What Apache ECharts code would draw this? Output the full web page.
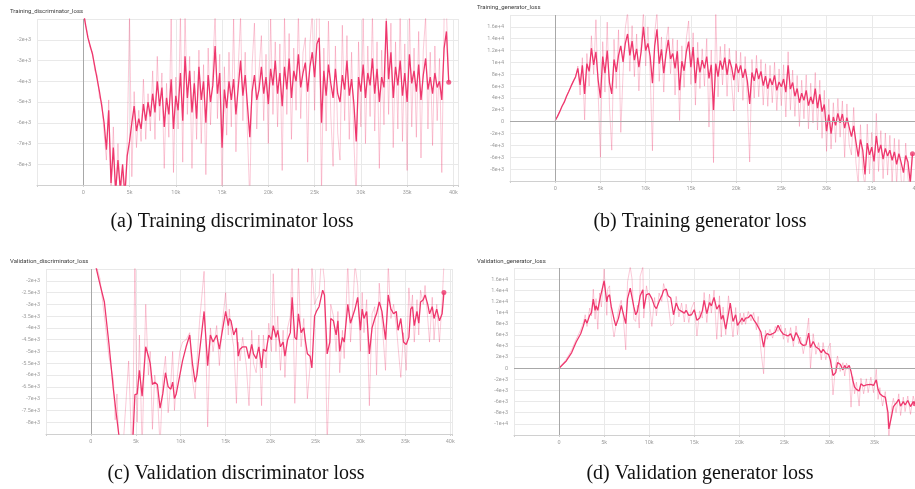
<!DOCTYPE html>
<html>
<head>
<meta charset="utf-8">
<script src="https://cdn.jsdelivr.net/npm/echarts@6/dist/echarts.min.js"></script>
<style>
  html, body { margin: 0; padding: 0; background: #fff; }
  #chart { width: 915px; height: 489px; }
</style>
</head>
<body>
<div id="chart"></div>
<script>
// training runs are logged every 250 steps
const TRAIN_STEP = 250

const TRAIN_DISC_SMOOTH = [
  -600, -1300, -1900, -2300, -2700, -3300, -3900, -4500, -5200, -6000,
  -7300, -5400, -8900, -7200, -9300, -7800, -9200, -8000, -9500, -7600,
  -6900, -6000, -5200, -6400, -5800, -6300, -5100, -5900, -5000, -5700,
  -4600, -5500, -4000, -5200, -4300, -6200, -4800, -5600, -3900, -6300,
  -4700, -5400, -3600, -5900, -2800, -4800, -3500, -5500, -4100, -5800,
  -3300, -4900, -4000, -6000, -3700, -5000, -4200, -2300, -4600, -3600,
  -7200, -4400, -5300, -4000, -4900, -3900, -5600, -4300, -3000, -4700,
  -3700, -5200, -6700, -4500, -3700, -4900, -4400, -3300, -4600, -3800,
  -5100, -3400, -4200, -3000, -4600, -3600, -5200, -3300, -4400, -2900,
  -4800, -3500, -4000, -2700, -4300, -3600, -3100, -4500, -3300, -2600,
  -3800, -2200, -1900, -6000, -3500, -4700, -3200, -4100, -4800, -3400,
  -4600, -5000, -3700, -4400, -3000, -4700, -3900, -5100, -6900, -3800,
  -4500, -3200, -4800, -3600, -4200, -2900, -4600, -3400, -5000, -3800,
  -4300, -1100, -3900, -2600, -4800, -3300, -4200, -3000, -4700, -3600,
  -5000, -2700, -4100, -3500, -4500, -3200, -4900, -3700, -2900, -4400,
  -3800, -4600, -3600, -4300, -4000, -4900, -2400, -1600, -4050
]
const TRAIN_DISC_RAW = [
  -600, -1200, -1800, -2400, -2600, -3500, -3700, -4800, -5000, -6500,
  -7800, -4900, -9500, -6200, -9800, -7000, -9600, -8400, -9900, -7000,
  -800, -8600, -4500, -7200, -5400, -6900, -3900, -6800, -4600, -6400,
  -3500, -6800, -2800, -5900, -3600, -8200, -4100, -6700, -1000, -8400,
  -3800, -6300, -800, -7900, -600, -5600, -2800, -8200, -3500, -6800,
  -2500, -7000, -3200, -8500, -2400, -6100, -3400, -700, -5800, -2700,
  -9500, -3300, -6600, -2600, -6200, -1000, -7400, -3300, -900, -5900,
  -2600, -6600, -9800, -3200, -1200, -6300, -3500, -1800, -5900, -2700,
  -7000, -1000, -5600, -2100, -6200, -2200, -8300, -900, -5600, -1700,
  -6800, -2400, -5400, -700, -5800, -2600, -1900, -7900, -2200, -600,
  -5400, -700, -800, -9400, -2400, -6400, -1100, -5600, -8100, -2300,
  -6500, -7800, -1300, -5900, -1800, -6800, -2600, -6900, -9800, -2100,
  -6200, -900, -7000, -2300, -5700, -800, -6400, -2100, -8200, -2500,
  -6100, -600, -5600, -1200, -7200, -2100, -6300, -700, -6900, -2200,
  -8300, -600, -6200, -2400, -6700, -1600, -7700, -2500, -900, -6300,
  -2600, -7100, -2300, -5900, -2900, -8400, -900, -600, -4050
]

const TRAIN_GEN_SMOOTH = [
  200, 900, 1700, 2600, 3300, 4300, 5100, 6000, 6800, 7600,
  9000, 6200, 9500, 4700, 9800, 8500, 12400, 9600, 11800, 7000,
  4000, 11000, 8200, 12000, 6600, 4700, 10500, 8400, 11200, 12800,
  10100, 13200, 14800, 11200, 13600, 10400, 12300, 9200, 11800, 16000,
  12000, 13200, 11000, 6500, 12800, 15600, 9800, 12200, 8200, 11400,
  13800, 10600, 11500, 9000, 11900, 5300, 10200, 8600, 11800, 13500,
  9200, 12600, 6500, 10800, 8300, 10400, 9000, 11000, 7300, 9600,
  2000, 9800, 7600, 10300, 8800, 10800, 7900, 10500, 9200, 7000,
  9800, 8200, 9500, 7400, 8900, 6800, 3000, 8300, 6900, 9000,
  7200, 8500, 6100, 7700, 5600, 7300, 6200, 7800, 5300, 6700,
  5900, 7200, 5000, 9500, 5500, 6600, 4300, 5600, 3200, 4800,
  3600, 5300, 2700, 4200, 3000, 5600, 2300, 4600, 1700, 2900,
  -1600, 1200, -2000, 800, -600, 1400, -200, 1300, -1100, 700,
  -900, -2500, -700, -3400, -5900, -3000, -4800, -8900, -3600, -5600,
  -4300, -6700, -2400, -5200, -3900, -6300, -4500, -5800, -4800, -6500,
  -5100, -7200, -5400, -6900, -8600, -5700, -6800, -10200, -5400
]
const TRAIN_GEN_RAW = [
  200, 800, 1800, 2500, 3400, 4200, 5200, 5900, 6900, 7400,
  9400, 4500, 10800, 300, 11500, 6000, 14500, 8000, 17200, 4600,
  -6000, 13500, 5000, 16800, 2500, -4800, 13900, 5600, 15500, -1800,
  8200, 15800, 18500, 8500, 16200, 7600, 14800, 5200, 13000, 18500,
  9400, 16000, 8000, -4900, 15000, 18500, 6800, 14300, 5000, 13400,
  16000, 8100, 14000, 4500, 13800, 200, 12800, 5800, 14100, 17000,
  6300, 15000, 2800, 13400, 5600, 12300, 6000, 14000, -900, 12100,
  -6900, 18500, 4200, 12700, 6200, 13100, 4300, 12400, 6500, 1800,
  12000, 5000, 11700, 3600, 11000, 3500, -6800, 10500, 4000, 11200,
  4200, 10500, 2800, 9800, 2600, 9500, 3200, 10000, 1900, 8900,
  2700, 9600, 800, 11800, 2000, 8700, 900, 7800, -800, 7000,
  500, 7900, -1200, 6500, -200, 8300, -1400, 7000, -2800, 5300,
  -5000, 3800, -4600, 3200, -3500, 3900, -2600, 3500, -6000, 3000,
  -3800, -5600, 2400, -6900, -10500, -500, -8200, -11000, -400, -8800,
  -1800, -10400, 1400, -8400, -1500, -9600, -1900, -9000, -2300, -10200,
  -2800, -10600, -3000, -9800, -11500, -3600, -9500, -12000, -5400
]

const VAL_DISC_STEPS = [
  0, 1000, 1500, 2000, 2500, 2700, 2900, 3100, 3500, 4200,
  4600, 4900, 5150, 5400, 5700, 6100, 6400, 6600, 6850, 7100,
  7400, 7700, 8000, 8300, 8600, 8900, 9100, 9300, 9500, 9900,
  10200, 10600, 11000, 11300, 11600, 11800, 12100, 12600, 13000, 13300,
  13600, 14000, 14300, 14600, 15000, 15300, 15400, 15600, 15900, 16200,
  16400, 16600, 16900, 17300, 17600, 17900, 18100, 18400, 18700, 19000,
  19200, 19500, 19800, 20100, 20300, 20600, 20800, 21100, 21400, 21600,
  21900, 22200, 22400, 22700, 22900, 23100, 23400, 23700, 23900, 24100,
  24400, 24600, 24900, 25100, 25400, 25600, 25800, 26000, 26300, 26600,
  26700, 27000, 27300, 27500, 27700, 28000, 28200, 28600, 28900, 29100,
  29400, 29700, 30000, 30200, 30400, 30700, 31000, 31300, 31600, 31800,
  32100, 32400, 32800, 33100, 33400, 33700, 34000, 34200, 34500, 34800,
  35100, 35400, 35600, 35800, 36000, 36300, 36500, 36700, 37000, 37200,
  37500, 37700, 38000, 38200, 38500, 38800, 39100, 39300
]
const VAL_DISC_SMOOTH = [
  -500, -2130, -2900, -4650, -6600, -7250, -7180, -8500, -9400, -9800,
  -9300, -6830, -6800, -5800, -6900, -4800, -5200, -5500, -6400, -6300,
  -6400, -7400, -6800, -5900, -6500, -6600, -6300, -7000, -6800, -6000,
  -5400, -4800, -4300, -5500, -6300, -6000, -5000, -3300, -5600, -4300,
  -4600, -4300, -4900, -4200, -3300, -3900, -3600, -3700, -4300, -4000,
  -5200, -4900, -4800, -4800, -5300, -4700, -5100, -5300, -4800, -5700,
  -4900, -5000, -4300, -4500, -3900, -4400, -4100, -4800, -4600, -5200,
  -4500, -4200, -2700, -4400, -4500, -3400, -4200, -4000, -4600, -5100,
  -5200, -5700, -3500, -3300, -3100, -3100, -2400, -2600, -5100, -4600,
  -3600, -3700, -4300, -3700, -5000, -4400, -4600, -3000, -3800, -3800,
  -3200, -2700, -4100, -3200, -3600, -3300, -5100, -4000, -3600, -3400,
  -2900, -3300, -4500, -2600, -3200, -3400, -3300, -4100, -3600, -4600,
  -4700, -4400, -3200, -3100, -3900, -3300, -3800, -2900, -2800, -2600,
  -3000, -3400, -3100, -3600, -3200, -3700, -3400, -2500
]
const VAL_DISC_RAW = [
  -500, -1900, -3500, -5200, -6200, -7900, -6800, -8800, -9500, -5400,
  -9700, -1200, -8000, -4300, -9200, -3000, -6000, -5000, -8300, -6000,
  -6800, -9000, -6200, -5200, -7600, -6300, -5000, -7500, -6500, -5000,
  -4600, -4500, -4200, -6200, -7000, -5500, -3700, -1600, -8200, -4000,
  -5000, -3900, -5600, -3900, -2500, -4300, -3200, -4100, -4800, -7200,
  -4600, -5400, -4400, -5600, -7300, -4100, -5500, -5900, -4300, -7300,
  -4300, -5700, -3800, -5000, -1700, -5000, -3500, -5800, -4100, -6100,
  -4000, -3500, -1200, -7200, -4700, -1400, -4800, -3600, -5200, -7000,
  -5600, -1300, -3000, -2800, -2600, -1400, -1300, -2000, -9000, -5300,
  -3000, -3500, -5000, -3300, -5900, -4100, -5300, -1200, -4600, -3500,
  -1300, -2200, -5000, -2500, -4200, -2800, -7300, -3400, -3100, -6000,
  -2100, -3700, -5800, -1300, -3600, -3000, -3900, -4800, -6100, -4200,
  -5800, -2300, -3500, -2600, -4600, -2800, -4300, -2400, -3000, -2200,
  -3600, -4600, -2700, -4500, -3000, -4600, -2900, -1300
]

const VAL_GEN_STEPS = [
  0, 800, 1400, 1900, 2400, 2700, 2900, 3100, 3400, 3600,
  3800, 4000, 4100, 4300, 4500, 4700, 5000, 5300, 5400, 5600,
  5800, 6100, 6300, 6600, 6900, 7100, 7400, 7600, 7900, 8100,
  8300, 8500, 8700, 8900, 9000, 9300, 9400, 9700, 10000, 10300,
  10600, 10800, 11100, 11400, 11600, 11900, 12100, 12400, 12700, 13000,
  13300, 13600, 13900, 14100, 14400, 14700, 15000, 15300, 15600, 15900,
  16100, 16400, 16700, 16900, 17200, 17500, 17800, 18000, 18200, 18500,
  18800, 19000, 19300, 19600, 19800, 20100, 20300, 20500, 20700, 21000,
  21300, 21600, 21900, 22100, 22400, 22700, 22900, 23100, 23400, 23700,
  24000, 24300, 24600, 24900, 25100, 25400, 25700, 26000, 26300, 26600,
  26800, 27100, 27400, 27700, 27900, 28200, 28500, 28800, 29100, 29300,
  29600, 29900, 30100, 30400, 30700, 30900, 31200, 31500, 31700, 31900,
  32200, 32400, 32600, 32800, 33000, 33300, 33500, 33800, 34100, 34300,
  34600, 34900, 35200, 35400, 35600, 35900, 36200, 36500, 36600, 36900,
  37100, 37400, 37700, 37900, 38200, 38400, 38700, 39000, 39300, 39500
]
const VAL_GEN_SMOOTH = [
  0, 1300, 2800, 4700, 6200, 7600, 8800, 8100, 9500, 10000,
  12400, 10400, 11200, 10400, 12200, 12300, 15700, 11900, 12800, 13200,
  11000, 8800, 7600, 9000, 11300, 11000, 8000, 12500, 14400, 14500,
  11000, 9600, 10200, 9900, 13000, 14100, 10700, 13200, 13400, 12500,
  11100, 10700, 12000, 13000, 14000, 14200, 13000, 12600, 9600, 11700,
  10500, 10200, 9900, 10400, 9500, 9600, 10500, 8600, 9000, 10300,
  12200, 9800, 11800, 11200, 12700, 10600, 11400, 8800, 9500, 7000,
  9800, 11700, 8400, 9600, 7700, 8400, 9000, 8400, 9000, 9100,
  9600, 8700, 8000, 8200, 6500, 3800, 5700, 6200, 6000, 6200,
  6500, 7700, 6700, 6100, 6200, 5800, 6200, 4900, 6400, 5500,
  4500, 4100, 4200, 6300, 3700, 4800, 3800, 3500, 2800, 3400,
  2700, 2500, 1500, -1300, -800, 1000, 700, -300, 500, -100,
  500, -600, -2200, -3400, -3800, -4100, -2800, -3200, -3000, -3100,
  -2900, -3100, -2100, -3800, -4600, -5000, -5200, -8000, -10900, -8600,
  -6900, -6300, -5600, -6800, -6000, -6600, -5800, -6900, -6000, -6400
]
const VAL_GEN_RAW = [
  0, 1600, 3300, 5200, 6900, 8200, 9600, 7500, 10800, 9400,
  14200, 8800, 12500, 7000, 13500, 11000, 17800, 9500, 14200, 14800,
  9200, 5600, 5800, 10500, 12200, 9600, 3300, 15500, 18200, 16000,
  8800, 8400, 11300, 7200, 16500, 18200, 9000, 14800, 12100, 7500,
  12700, 9400, 13500, 12000, 15200, 13400, 11800, 7600, 8000, 12900,
  9200, 11700, 8300, 11500, 8200, 10800, 11900, 5800, 10300, 9000,
  13600, 8200, 13300, 9900, 14000, 5200, 13000, 5600, 11000, 6000,
  13000, 10000, 5600, 10900, 6000, 9900, 7800, 9900, 7900, 10200,
  8500, 10000, 6900, 9300, 3200, -1000, 6800, 5200, 7000, 5400,
  7500, 6600, 7800, 5200, 7200, 4600, 7300, 3900, 7600, 4400,
  5600, 2600, 5300, 9000, -100, 6200, 2500, 4600, 1500, 4600,
  1500, 3800, 4500, -4800, 600, 2200, -600, 1000, -1400, 900,
  -400, -7000, -1500, -4600, -2500, -6800, -1800, -4600, -1900, -4400,
  -1600, -4400, -200, -5600, -3500, -6800, -4200, -9600, -12500, -7200,
  -5400, -8000, -4600, -8500, -5200, -7800, -5000, -8300, -5000, -6400
]

const LINE_COLOR = '#ee376d'
const RAW_COLOR = 'rgba(239, 59, 112, 0.27)'
const GRID_COLOR = '#e9e9e9'
const ZERO_COLOR = '#a8a8a8'
const LABEL_COLOR = '#9e9e9e'

const trainSteps = (values) => values.map((_, i) => i * TRAIN_STEP)
const toPairs = (steps, values) => steps.map((s, i) => [s, values[i]])

const PANELS = [
  {
    title: 'Training_discriminator_loss',
    caption: '(a) Training discriminator loss',
    steps: trainSteps(TRAIN_DISC_SMOOTH),
    smooth: TRAIN_DISC_SMOOTH,
    raw: TRAIN_DISC_RAW,
    box: { left: 37, top: 19, width: 421, height: 166 },
    xMax: 40500,
    y: [-9000, -1000, 1000],
    titlePos: [10, 8],
    captionPos: [232, 222],
  },
  {
    title: 'Training_generator_loss',
    caption: '(b) Training generator loss',
    steps: trainSteps(TRAIN_GEN_SMOOTH),
    smooth: TRAIN_GEN_SMOOTH,
    raw: TRAIN_GEN_RAW,
    box: { left: 510, top: 15, width: 407, height: 166 },
    xMax: 40000,
    y: [-10000, 18000, 2000],
    titlePos: [477, 4],
    captionPos: [700, 222],
  },
  {
    title: 'Validation_discriminator_loss',
    caption: '(c) Validation discriminator loss',
    steps: VAL_DISC_STEPS,
    smooth: VAL_DISC_SMOOTH,
    raw: VAL_DISC_RAW,
    box: { left: 46, top: 269, width: 406, height: 165 },
    xMax: 40200,
    y: [-8500, -1500, 500],
    titlePos: [10, 258],
    captionPos: [236, 474],
  },
  {
    title: 'Validation_generator_loss',
    caption: '(d) Validation generator loss',
    steps: VAL_GEN_STEPS,
    smooth: VAL_GEN_SMOOTH,
    raw: VAL_GEN_RAW,
    box: { left: 514, top: 268, width: 401, height: 167 },
    xMax: 39500,
    y: [-12000, 18000, 2000],
    titlePos: [477, 258],
    captionPos: [700, 474],
  },
]

function formatStep(v) {
  if (v < 0 || v % 5000 !== 0) return ''
  return v === 0 ? '0' : v / 1000 + 'k'
}

function formatLoss(v) {
  return v === 0 ? '0' : v.toExponential()
}

const grid = []
const xAxis = []
const yAxis = []
const series = []
const title = []
const graphic = []

PANELS.forEach((p, idx) => {
  const [yMin, yMax, yStep] = p.y
  // keep the box exactly where it is, even if a label runs off the page
  grid.push({ ...p.box, outerBoundsMode: 'none' })

  xAxis.push({
    type: 'value',
    gridIndex: idx,
    min: -5000,
    max: p.xMax,
    interval: 5000,
    axisLine: { onZero: false, lineStyle: { color: '#d0d0d0' } },
    axisTick: { show: true, length: 2, lineStyle: { color: '#d0d0d0' } },
    axisLabel: { color: LABEL_COLOR, fontSize: 5.5, fontFamily: 'Roboto', margin: 5, formatter: formatStep },
    splitLine: { show: true, lineStyle: { color: GRID_COLOR, width: 1 } },
  })

  yAxis.push({
    type: 'value',
    gridIndex: idx,
    min: yMin,
    max: yMax,
    interval: yStep,
    axisLine: { show: false },
    axisTick: { show: false },
    axisLabel: {
      color: LABEL_COLOR,
      fontSize: 5.5,
      fontFamily: 'Roboto',
      margin: 6,
      showMinLabel: false,
      showMaxLabel: false,
      formatter: formatLoss,
    },
    splitLine: { show: true, lineStyle: { color: GRID_COLOR, width: 1 } },
  })

  const zeroLines = [{ xAxis: 0 }]
  if (yMin < 0 && yMax > 0) zeroLines.push({ yAxis: 0 })

  series.push({
    type: 'line',
    xAxisIndex: idx,
    yAxisIndex: idx,
    data: toPairs(p.steps, p.raw),
    showSymbol: false,
    animation: false,
    silent: true,
    z: 1,
    lineStyle: { color: RAW_COLOR, width: 1 },
    markLine: {
      silent: true,
      symbol: 'none',
      animation: false,
      label: { show: false },
      lineStyle: { color: ZERO_COLOR, type: 'solid', width: 1 },
      data: zeroLines,
    },
  })

  series.push({
    type: 'line',
    xAxisIndex: idx,
    yAxisIndex: idx,
    data: toPairs(p.steps, p.smooth),
    showSymbol: false,
    animation: false,
    silent: true,
    z: 3,
    lineStyle: { color: LINE_COLOR, width: 1.3 },
  })

  // marker on the latest logged value
  const last = p.steps.length - 1
  series.push({
    type: 'scatter',
    xAxisIndex: idx,
    yAxisIndex: idx,
    data: [[p.steps[last], p.smooth[last]]],
    symbol: 'circle',
    symbolSize: 5,
    animation: false,
    silent: true,
    z: 4,
    itemStyle: { color: LINE_COLOR },
  })

  title.push({
    text: p.title,
    left: p.titlePos[0],
    top: p.titlePos[1],
    padding: 0,
    textStyle: { fontSize: 6, fontWeight: 'normal', color: '#3c3c3c', fontFamily: 'Roboto' },
  })

  graphic.push({
    type: 'text',
    x: p.captionPos[0],
    y: p.captionPos[1],
    style: {
      text: p.caption,
      font: '20px "Liberation Serif"',
      fill: '#111',
      align: 'center',
      verticalAlign: 'middle',
    },
  })
})

const chart = echarts.init(document.getElementById('chart'))
chart.setOption({
  animation: false,
  backgroundColor: '#fff',
  title,
  grid,
  xAxis,
  yAxis,
  series,
  graphic,
})
</script>
</body>
</html>
